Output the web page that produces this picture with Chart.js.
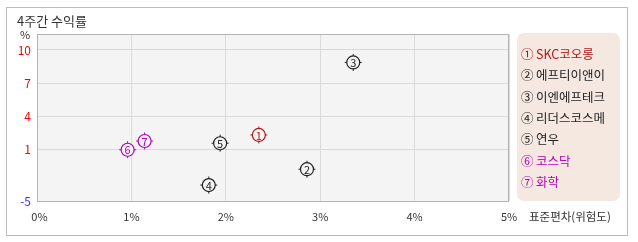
<!DOCTYPE html>
<html>
<head>
<meta charset="utf-8">
<script src="https://cdn.jsdelivr.net/npm/chart.js@4"></script>
<style>
  html, body { margin: 0; padding: 0; background: #fff; }
  #wrap { width: 638px; height: 242px; }
</style>
</head>
<body>
<div id="wrap"><canvas id="riskChart" width="638" height="242"></canvas></div>
<script>
// 종목 데이터
const names   = ['SKC코오롱', '에프티이앤이', '이엔에프테크', '리더스코스메', '연우', '코스닥', '화학'];
const marks   = ['①', '②', '③', '④', '⑤', '⑥', '⑦'];
const riskX   = [2.35, 2.86, 3.35, 1.82, 1.94, 0.96, 1.14];   // 표준편차 %
const returnY = [2.30, -1.31, 8.87, -3.15, 1.55, 0.95, 1.75];  // 4주간 수익률 %
const colors  = ['#b01818', '#222222', '#222222', '#222222', '#222222', '#b000b8', '#b000b8'];

// 축 눈금
const xTicks = [0, 1, 2, 3, 4, 5];
const yTicks = [10, 7, 4, 1, -5];
const yTickColors = ['#ff0000', '#ff0000', '#ff0000', '#ff0000', '#3333ff'];

const FONT = '"Noto Sans CJK KR", "Noto Sans", sans-serif';

// 원본 그래프의 y축은 1 아래쪽이 압축되어 있음 (1 ~ -5 구간)
const LOW_RATIO = 0.781;
function toAxis(v) {
    return v >= 1 ? v : 1 + (v - 1) * LOW_RATIO;
}

const points = riskX.map((x, i) => ({ x: x, y: toAxis(returnY[i]) }));

// 배경, 테두리, 제목, 범례
const framePlugin = {
    id: 'frame',
    beforeDraw(chart) {
        const ctx = chart.ctx;
        const a = chart.chartArea;
        ctx.save();
        ctx.fillStyle = '#ffffff';
        ctx.fillRect(0, 0, chart.width, chart.height);
        ctx.strokeStyle = '#bcbcbc';
        ctx.lineWidth = 1;
        ctx.strokeRect(6.5, 7.5, 621, 228);
        ctx.fillStyle = '#f4f4f4';
        ctx.fillRect(a.left, a.top, a.right - a.left, a.bottom - a.top);
        ctx.restore();
    },
    afterDraw(chart) {
        const ctx = chart.ctx;
        const a = chart.chartArea;
        ctx.save();
        ctx.strokeStyle = '#b4b4b4';
        ctx.lineWidth = 1;
        ctx.strokeRect(a.left + 0.5, a.top + 0.5, a.right - a.left - 1, a.bottom - a.top);

        ctx.fillStyle = '#333';
        ctx.textBaseline = 'middle';
        ctx.font = '13px ' + FONT;
        ctx.textAlign = 'left';
        ctx.fillText('4주간 수익률', 17, 21);
        ctx.font = '11px ' + FONT;
        ctx.textAlign = 'center';
        ctx.fillText('%', 25, 35);
        ctx.font = '11.5px ' + FONT;
        ctx.textAlign = 'left';
        ctx.fillText('표준편차(위험도)', 529, 217);

        // 범례
        const lx = 517, ly = 33, lw = 103, lh = 168, r = 7;
        ctx.fillStyle = '#f5e8e1';
        ctx.beginPath();
        ctx.roundRect(lx, ly, lw, lh, r);
        ctx.fill();
        ctx.font = '12.5px ' + FONT;
        names.forEach((n, i) => {
            const y = 54 + i * 21.4;
            ctx.fillStyle = colors[i];
            ctx.fillText(marks[i], 521, y);
            ctx.fillText(n, 536, y);
        });
        ctx.restore();
    },
    afterDatasetsDraw(chart) {
        const ctx = chart.ctx;
        const meta = chart.getDatasetMeta(0);
        ctx.save();
        meta.data.forEach((pt, i) => {
            ctx.beginPath();
            ctx.arc(pt.x, pt.y, 6.5, 0, Math.PI * 2);
            ctx.fillStyle = '#f4f4f4';
            ctx.fill();
            ctx.lineWidth = 1.2;
            ctx.strokeStyle = colors[i];
            ctx.stroke();
            ctx.fillStyle = colors[i];
            ctx.font = '11px ' + FONT;
            ctx.textAlign = 'center';
            ctx.textBaseline = 'middle';
            ctx.fillText(String(i + 1), pt.x, pt.y + 0.5);
        });
        ctx.restore();
    }
};

new Chart(document.getElementById('riskChart'), {
    type: 'scatter',
    data: {
        datasets: [{
            data: points,
            pointStyle: 'cross',
            pointRadius: 8.5,
            pointHoverRadius: 8.5,
            borderWidth: 1,
            borderColor: colors,
            backgroundColor: colors
        }]
    },
    options: {
        responsive: false,
        animation: false,
        events: [],
        layout: { padding: { left: 0, top: 34, right: 129, bottom: 0 } },
        plugins: {
            legend: { display: false },
            tooltip: { enabled: false }
        },
        scales: {
            x: {
                type: 'linear',
                min: 0,
                max: 5,
                afterBuildTicks(scale) {
                    scale.ticks = xTicks.map(v => ({ value: v }));
                },
                afterFit(scale) { scale.height = 41; },
                grid: { color: '#dadada', drawTicks: false },
                border: { display: false },
                ticks: {
                    padding: 9,
                    color: '#333',
                    font: { size: 11, family: FONT },
                    callback: (v, i) => (i === 0 ? '  ' : '') + v + '%'
                }
            },
            y: {
                type: 'linear',
                min: toAxis(-5),
                max: 11.45,
                afterBuildTicks(scale) {
                    scale.ticks = yTicks.map(v => ({ value: toAxis(v) }));
                },
                afterFit(scale) { scale.width = 37; },
                grid: { color: '#dadada', drawTicks: false },
                border: { display: false },
                ticks: {
                    padding: 6,
                    font: { size: 12, family: FONT },
                    color: ctx => yTickColors[ctx.index],
                    callback: (v, i) => String(yTicks[i])
                }
            }
        }
    },
    plugins: [framePlugin]
});
</script>
</body>
</html>
